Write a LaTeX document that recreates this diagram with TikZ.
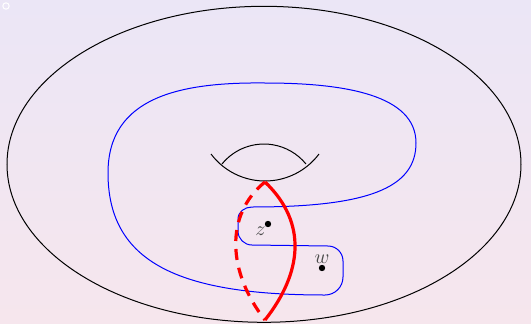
\documentclass[tikz,border=0pt]{standalone}
\usepackage{amsmath}
\usepackage{tikz}
\usetikzlibrary{calc}

\definecolor{bgtop}{RGB}{235,230,246}
\definecolor{bgbot}{RGB}{246,230,237}

\begin{document}
\begin{tikzpicture}[
  x=0.5pt, y=0.5pt,
  every node/.style={font=\normalsize},
  torusline/.style={draw=black, line width=0.5pt},
  bluecurve/.style={draw=blue, line width=0.5pt, line join=round},
  redsolid/.style={draw=red, line width=1.6pt, line join=round},
  reddashed/.style={draw=red, line width=1.6pt, dash pattern=on 5.5pt off 4pt},
  dotpt/.style={circle, fill=black, inner sep=0pt, minimum size=3.2pt},
  ptlabel/.style={text=black!70, inner sep=1pt}
]

% ===== FOND =====
\useasboundingbox (0,0) rectangle (531,323);
\shade[top color=bgtop, bottom color=bgbot] (0,0) rectangle (531,323);
\draw[white, line width=0.5pt] (6,317) circle[radius=1.6pt];

% ===== TORE =====
\draw[torusline] (264,158.7) ellipse[x radius=257, y radius=158];
\draw[torusline] (211,169) arc[start angle=216.87, end angle=323.13, radius=67.5];
\draw[torusline] (222,159) arc[start angle=140.9, end angle=39.1, radius=54.1];

% ===== COURBE BLEUE =====
\draw[bluecurve] (252,116)
  .. controls (368,116) and (416,135) .. (416,180)
  .. controls (416,228) and (345,240) .. (265,240)
  .. controls (180,241) and (108,226) .. (108,150)
  .. controls (108,60) and (180,28) .. (325,28)
  to[out=0,in=-90] (343,46)
  -- (343,62)
  to[out=90,in=0] (328,77)
  -- (252,78)
  to[out=180,in=-90] (238,92)
  -- (238,104)
  to[out=90,in=180] (252,116);

% ===== MERIDIEN ROUGE =====
\coordinate (mtop) at (265,141);
\coordinate (mbot) at (265,3);
\draw[reddashed] (mtop) .. controls (224,108) and (228,50) .. (mbot);
\draw[redsolid] (mtop) .. controls (308,100) and (302,50) .. (mbot);

% ===== POINTS =====
\node[dotpt] (zpt) at (268,99) {};
\node[ptlabel, below left] (zlab) at (zpt) {$z$};
\node[dotpt] (wpt) at (322,55) {};
\node[ptlabel, above=1pt] (wlab) at (wpt) {$w$};
\end{tikzpicture}
\end{document}
